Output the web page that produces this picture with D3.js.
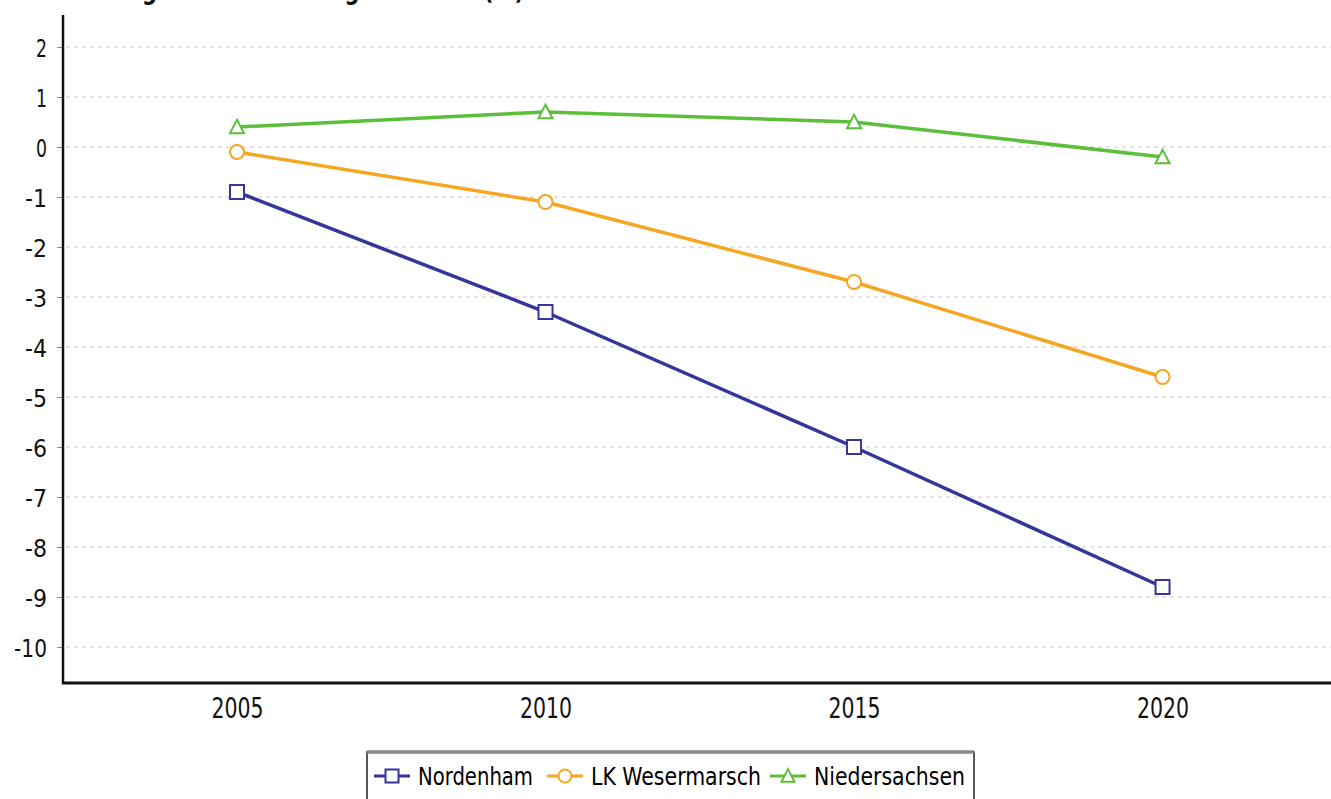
<!DOCTYPE html>
<html>
<head>
<meta charset="utf-8">
<script src="https://cdn.jsdelivr.net/npm/d3@7"></script>
<style>
  body { margin: 0; background: #fff; }
  svg { display: block; }
  text { font-family: "Liberation Sans Narrow", "DejaVu Sans Condensed", sans-serif; }
</style>
</head>
<body>
<svg id="chart"></svg>
<script>
// data
var years = [2005, 2010, 2015, 2020];
var nordenham = [-0.9, -3.3, -6.0, -8.8];
var wesermarsch = [-0.1, -1.1, -2.7, -4.6];
var niedersachsen = [0.4, 0.7, 0.5, -0.2];
var yTicks = [2, 1, 0, -1, -2, -3, -4, -5, -6, -7, -8, -9, -10];
var seriesNames = ["Nordenham", "LK Wesermarsch", "Niedersachsen"];
var seriesColors = ["#35359a", "#f5a623", "#5cbf3a"];
var seriesShapes = ["square", "circle", "triangle"];

var width = 1331, height = 799;
var font = '"Liberation Sans Narrow", "DejaVu Sans Condensed", sans-serif';

var svg = d3.select('#chart')
    .attr('width', width)
    .attr('height', height);

var x = d3.scaleLinear().domain([2002.18, 2022.73]).range([63, 1331]);
var y = d3.scaleLinear().domain([-10.72, 2.64]).range([683, 15]);

// title, mostly cut off at the top edge
svg.append('text')
    .attr('x', 4)
    .attr('y', -1)
    .attr('font-size', 26)
    .attr('font-weight', 'bold')
    .attr('fill', '#111')
    .attr('textLength', 520)
    .attr('lengthAdjust', 'spacingAndGlyphs')
    .text('Veränderung der Bevölkerung seit 2001 (%)');

// grid
svg.append('g')
    .selectAll('line')
    .data(yTicks)
    .enter().append('line')
    .attr('x1', 66)
    .attr('x2', width)
    .attr('y1', function (d) { return y(d); })
    .attr('y2', function (d) { return y(d); })
    .attr('stroke', '#c8c8c8')
    .attr('stroke-width', 1)
    .attr('stroke-dasharray', '4,4');

// y axis
var yAxis = d3.axisLeft(y)
    .tickValues(yTicks)
    .tickSize(6)
    .tickPadding(10)
    .tickFormat(function (d) { return String(d).replace('\u2212', '-'); });

var gy = svg.append('g')
    .attr('transform', 'translate(63,0)')
    .call(yAxis);
gy.select('.domain').remove();
gy.selectAll('.tick line').attr('stroke', '#888');
gy.selectAll('.tick text')
    .attr('font-size', 25)
    .attr('fill', '#111')
    .attr('dy', '0.36em')
    .attr('textLength', function (d) { return String(d).length * 11; })
    .attr('lengthAdjust', 'spacingAndGlyphs')
    .style('font-family', font);

svg.append('line')
    .attr('x1', 63).attr('x2', 63)
    .attr('y1', 15).attr('y2', 684)
    .attr('stroke', '#111')
    .attr('stroke-width', 2.5);

// x axis
var xAxis = d3.axisBottom(x)
    .tickValues(years)
    .tickSize(0)
    .tickPadding(15)
    .tickFormat(d3.format('d'));

var gx = svg.append('g')
    .attr('transform', 'translate(0,683)')
    .call(xAxis);
gx.select('.domain').remove();
gx.selectAll('.tick text')
    .attr('font-size', 28)
    .attr('fill', '#111')
    .attr('textLength', 52)
    .attr('lengthAdjust', 'spacingAndGlyphs')
    .style('font-family', font);

svg.append('line')
    .attr('x1', 62).attr('x2', width)
    .attr('y1', 683).attr('y2', 683)
    .attr('stroke', '#111')
    .attr('stroke-width', 3);

// markers
function drawMarker(g, shape, color, cx, cy, s) {
    if (shape == 'square') {
        g.append('rect')
            .attr('x', cx - s / 2).attr('y', cy - s / 2)
            .attr('width', s).attr('height', s)
            .attr('fill', '#fff').attr('stroke', color).attr('stroke-width', 2);
    } else if (shape == 'circle') {
        g.append('circle')
            .attr('cx', cx).attr('cy', cy).attr('r', s / 2)
            .attr('fill', '#fff').attr('stroke', color).attr('stroke-width', 2);
    } else {
        var h = s * 0.9;
        g.append('path')
            .attr('d', 'M' + cx + ',' + (cy - h / 2 - 1) +
                'L' + (cx + s / 2) + ',' + (cy + h / 2) +
                'L' + (cx - s / 2) + ',' + (cy + h / 2) + 'Z')
            .attr('fill', '#fff').attr('stroke', color).attr('stroke-width', 2);
    }
}

var allSeries = [nordenham, wesermarsch, niedersachsen];

var line = d3.line()
    .x(function (d, i) { return x(years[i]); })
    .y(function (d) { return y(d); });

allSeries.forEach(function (values, k) {
    var g = svg.append('g');
    g.append('path')
        .datum(values)
        .attr('d', line)
        .attr('fill', 'none')
        .attr('stroke', seriesColors[k])
        .attr('stroke-width', 3.5);
    values.forEach(function (v, i) {
        drawMarker(g, seriesShapes[k], seriesColors[k], x(years[i]), y(v), 14);
    });
});

// legend
var legend = svg.append('g');
legend.append('rect')
    .attr('x', 367).attr('y', 752)
    .attr('width', 607).attr('height', 60)
    .attr('fill', '#fff')
    .attr('stroke', '#222')
    .attr('stroke-width', 1.5);
legend.append('line')
    .attr('x1', 367).attr('x2', 974)
    .attr('y1', 752).attr('y2', 752)
    .attr('stroke', '#888')
    .attr('stroke-width', 3.5);

var legendX = [374, 547, 770];
var legendTextW = [115, 170, 151];
seriesNames.forEach(function (name, k) {
    var lx = legendX[k], ly = 776;
    legend.append('line')
        .attr('x1', lx).attr('x2', lx + 36)
        .attr('y1', ly).attr('y2', ly)
        .attr('stroke', seriesColors[k])
        .attr('stroke-width', 3);
    drawMarker(legend, seriesShapes[k], seriesColors[k], lx + 18, ly, 13);
    legend.append('text')
        .attr('x', lx + 44)
        .attr('y', ly + 9)
        .attr('font-size', 24)
        .attr('fill', '#000')
        .attr('textLength', legendTextW[k])
        .attr('lengthAdjust', 'spacingAndGlyphs')
        .text(name);
});
</script>
</body>
</html>
